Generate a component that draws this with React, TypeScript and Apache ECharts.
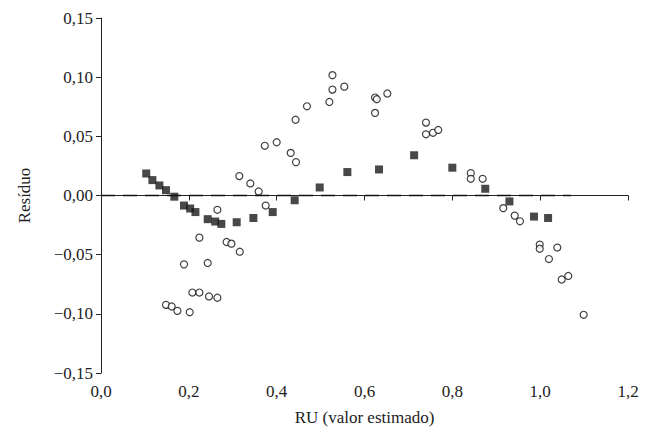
import React, { useEffect, useRef } from "react";
import * as echarts from "echarts";

const squares: number[][] = [
  [0.103, 0.0186], [0.117, 0.013], [0.133, 0.0085], [0.148, 0.0045], [0.167, -0.001],
  [0.189, -0.0085], [0.203, -0.011], [0.215, -0.014], [0.243, -0.02], [0.26, -0.022],
  [0.274, -0.024], [0.309, -0.0226], [0.347, -0.019], [0.391, -0.014], [0.441, -0.004],
  [0.498, 0.0068], [0.561, 0.0198], [0.633, 0.022], [0.713, 0.034], [0.8, 0.0235],
  [0.875, 0.0057], [0.93, -0.005], [0.986, -0.0178], [1.018, -0.019],
];
const circles: number[][] = [
  [0.148, -0.0924], [0.161, -0.0938], [0.174, -0.0975], [0.202, -0.0986], [0.189, -0.0582],
  [0.208, -0.082], [0.224, -0.082], [0.224, -0.0356], [0.243, -0.057], [0.246, -0.0853],
  [0.265, -0.0864], [0.265, -0.0121], [0.286, -0.0393], [0.297, -0.0407], [0.316, -0.0475],
  [0.315, 0.0164], [0.34, 0.0102], [0.359, 0.0034], [0.375, -0.0085], [0.432, 0.036],
  [0.444, 0.0282], [0.373, 0.042], [0.4, 0.045], [0.443, 0.064], [0.469, 0.0754],
  [0.527, 0.1017], [0.527, 0.0895], [0.52, 0.079], [0.554, 0.092], [0.624, 0.0828],
  [0.628, 0.0814], [0.624, 0.0698], [0.652, 0.0862], [0.74, 0.0616], [0.74, 0.0517],
  [0.756, 0.053], [0.768, 0.0554], [0.842, 0.0189], [0.842, 0.0141], [0.869, 0.0141],
  [0.916, -0.0107], [0.942, -0.017], [0.954, -0.0218], [0.999, -0.0415], [0.999, -0.045],
  [1.039, -0.044], [1.02, -0.0537], [1.049, -0.071], [1.064, -0.068], [1.099, -0.1008],
];
const zeroLine = [[0, 0], [1.07, 0]];

const fmt = (v: number, d: number) => {
  const s = Math.abs(v).toFixed(d).replace(".", ",");
  return v < -1e-9 ? "\u2212" + s : s;
};

export default function App() {
  const ref = useRef<HTMLDivElement>(null);
  useEffect(() => {
    const chart = echarts.init(ref.current!, null, { renderer: "svg" });
    const font = "Liberation Serif";
    chart.setOption({
      animation: false,
      grid: { left: 89, right: 18, top: 10, bottom: 62 },
      xAxis: {
        type: "value", min: 0, max: 1.2, interval: 0.2,
        name: "RU (valor estimado)", nameLocation: "middle", nameGap: 36,
        nameTextStyle: { fontFamily: font, fontSize: 17, color: "#222" },
        axisLine: { lineStyle: { color: "#222" } },
        axisTick: { lineStyle: { color: "#222" }, length: 5 },
        splitLine: { show: false },
        axisLabel: { fontFamily: font, fontSize: 17, color: "#222", margin: 10, formatter: (v: number) => fmt(v, 1) },
      },
      yAxis: {
        type: "value", min: -0.15, max: 0.15, interval: 0.05,
        name: "Resíduo", nameLocation: "middle", nameGap: 68,
        nameTextStyle: { fontFamily: font, fontSize: 17, color: "#222" },
        axisLine: { show: true, lineStyle: { color: "#222" } },
        axisTick: { show: true, lineStyle: { color: "#222" }, length: 5 },
        splitLine: { show: false },
        axisLabel: { fontFamily: font, fontSize: 17, color: "#222", formatter: (v: number) => fmt(v, 2) },
      },
      series: [
        {
          type: "line", data: zeroLine, symbol: "none", silent: true,
          lineStyle: { color: "#111", width: 1.5, type: [14, 8] },
        },
        {
          type: "scatter", data: circles, symbol: "circle", symbolSize: 7,
          itemStyle: { color: "#fff", borderColor: "#111", borderWidth: 1.2 },
        },
        {
          type: "scatter", data: squares, symbol: "rect", symbolSize: 8,
          itemStyle: { color: "#1a1a1a" },
        },
      ],
    });
    return () => chart.dispose();
  }, []);
  return <div ref={ref} style={{ width: 638, height: 427 }} />;
}
